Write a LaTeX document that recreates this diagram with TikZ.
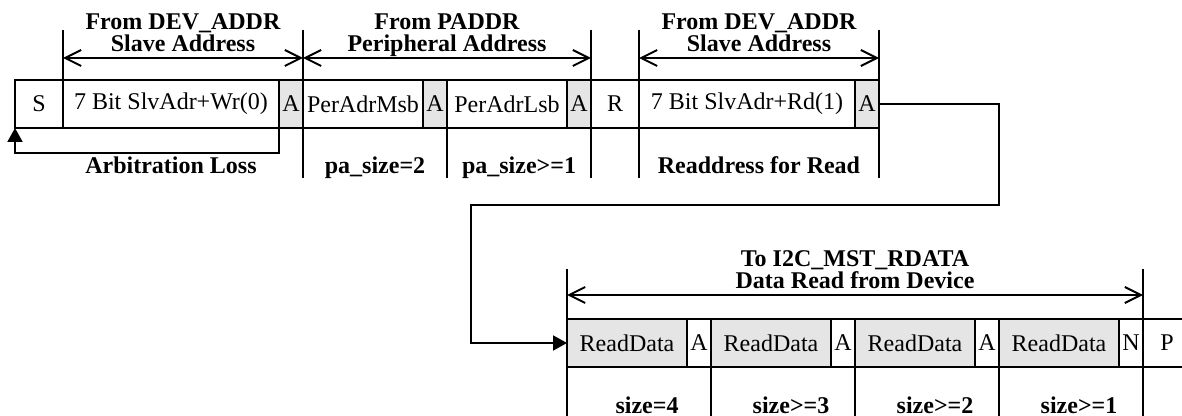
\documentclass[tikz,border=0pt]{standalone}
\usepackage{fontspec}
\setmainfont{Liberation Serif}
\usetikzlibrary{positioning,arrows.meta}

\begin{document}
\begin{tikzpicture}[x=0.5pt, y=-0.5pt,
            node distance=0pt,
            field/.style = {draw, line width=0.8pt, minimum height=24pt, minimum width=#1*12pt,
                            inner sep=0pt, outer sep=0pt, font=\fontsize{12}{14}\selectfont},
            field/.default = 1,
            shaded/.style = {field=#1, fill=gray!20},
            shaded/.default = 1,
            span/.style = {{Straight Barb[length=8pt,width=8pt]}-{Straight Barb[length=8pt,width=8pt]}, line width=1pt},
            tick/.style = {line width=1pt},
            link/.style = {-{Triangle[length=7pt,width=7.5pt]}, line width=1pt},
            caption/.style = {font=\bfseries\fontsize{12}{11}\selectfont, align=center, inner sep=0pt}
            ]
            \useasboundingbox (0,0) rectangle (1182,416);
            \clip (0,0) rectangle (1182,416);

            \node[field=2, anchor=north west] (s) at (15,80) {S};
            \node[field=9, right=of s] (wr) {7 Bit SlvAdr+Wr(0)};
            \node[shaded, right=of wr] (ack1) {A};
            \node[field=5, right=of ack1] (msb) {PerAdrMsb};
            \node[shaded, right=of msb] (ack2) {A};
            \node[field=5, right=of ack2] (lsb) {PerAdrLsb};
            \node[shaded, right=of lsb] (ack3) {A};
            \node[field=2, right=of ack3] (r) {R};
            \node[field=9, right=of r] (rd) {7 Bit SlvAdr+Rd(1)};
            \node[shaded, right=of rd] (ack4) {A};

            \node[shaded=5, anchor=north west] (rd1) at (567,319) {ReadData};
            \node[field, right=of rd1] (a1) {A};
            \node[shaded=5, right=of a1] (rd2) {ReadData};
            \node[field, right=of rd2] (a2) {A};
            \node[shaded=5, right=of a2] (rd3) {ReadData};
            \node[field, right=of rd3] (a3) {A};
            \node[shaded=5, right=of a3] (rd4) {ReadData};
            \node[field, right=of rd4] (nak) {N};
            \node[field=2, right=of nak] (stop) {P};

            \draw[tick] (wr.north west) -- ([yshift=25pt]wr.north west);
            \draw[tick] ([yshift=25pt]msb.north west) -- ([yshift=-25pt]msb.south west);
            \draw[tick] (lsb.south west) -- ([yshift=-25pt]lsb.south west);
            \draw[tick] ([yshift=25pt]r.north west) -- ([yshift=-25pt]r.south west);
            \draw[tick] ([yshift=25pt]rd.north west) -- ([yshift=-25pt]rd.south west);
            \draw[tick] ([yshift=25pt]ack4.north east) -- ([yshift=-25pt]ack4.south east);
            \draw[tick] ([yshift=25pt]rd1.north west) -- ([yshift=-25pt]rd1.south west);
            \draw[tick] ([yshift=25pt]nak.north east) -- ([yshift=-25pt]nak.south east);
            \foreach \n in {a1,a2,a3}
                \draw[tick] (\n.south east) -- ([yshift=-25pt]\n.south east);

            \draw[span] ([yshift=11pt]wr.north west) -- ([yshift=11pt]msb.north west)
                node[caption, midway, anchor=base, yshift=3pt] (cap1) {From DEV\_ADDR\\Slave Address};
            \draw[span] ([yshift=11pt]msb.north west) -- ([yshift=11pt]r.north west)
                node[caption, midway, anchor=base, yshift=3pt] (cap2) {From PADDR\\Peripheral Address};
            \draw[span] ([yshift=11pt]rd.north west) -- ([yshift=11pt]ack4.north east)
                node[caption, midway, anchor=base, yshift=3pt] (cap3) {From DEV\_ADDR\\Slave Address};
            \draw[span] ([yshift=12pt]rd1.north west) -- ([yshift=12pt]nak.north east)
                node[caption, midway, anchor=base, yshift=3pt] (cap4) {To I2C\_MST\_RDATA\\Data Read from Device};

            \node[caption, anchor=base] (arb) at ([yshift=-23pt]wr.south) {Arbitration Loss};
            \node[caption, anchor=base] (pa2) at ([xshift=6pt,yshift=-23pt]msb.south) {pa\_size=2};
            \node[caption, anchor=base] (pa1) at ([xshift=6pt,yshift=-23pt]lsb.south) {pa\_size>=1};
            \node[caption, anchor=base] (readdr) at ([xshift=6pt,yshift=-23pt]rd.south) {Readdress for Read};
            \node[caption, anchor=base] (sz4) at ([xshift=10pt,yshift=-23pt]rd1.south) {size=4};
            \node[caption, anchor=base] (sz3) at ([xshift=10pt,yshift=-23pt]rd2.south) {size>=3};
            \node[caption, anchor=base] (sz2) at ([xshift=10pt,yshift=-23pt]rd3.south) {size>=2};
            \node[caption, anchor=base] (sz1) at ([xshift=10pt,yshift=-23pt]rd4.south) {size>=1};

            \draw[link] (ack1.south west) -- ++(0,25) -| (s.south west);
            \draw[link] (ack4.east) -| ++(120,101) -| ([xshift=-48pt]rd1.west) -- (rd1.west);
        \end{tikzpicture}
\end{document}
